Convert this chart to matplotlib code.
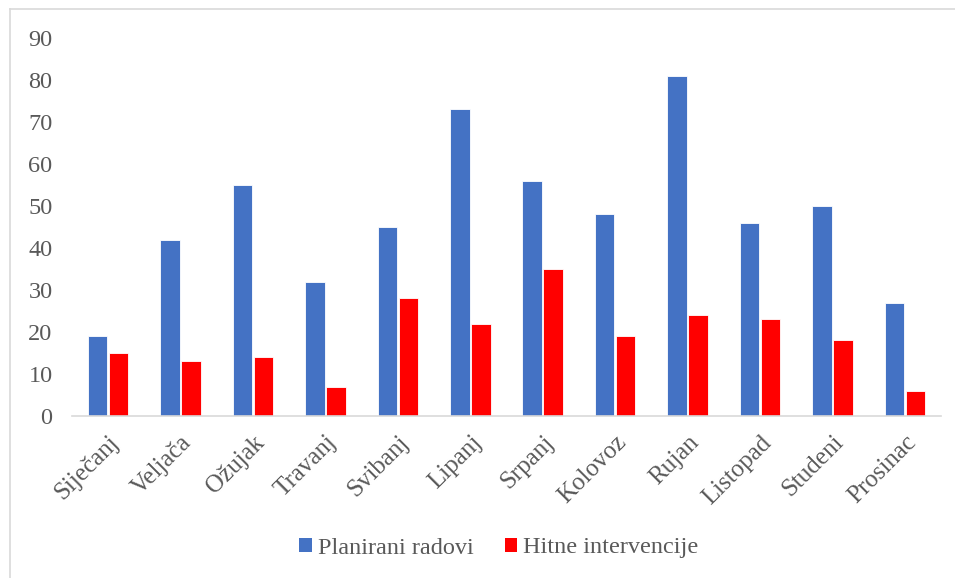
import numpy as np
import matplotlib
matplotlib.use("Agg")
import matplotlib.pyplot as plt
from matplotlib.lines import Line2D
from matplotlib.patches import Patch

# Mjesečni podaci
mjeseci = ["Siječanj", "Veljača", "Ožujak", "Travanj", "Svibanj", "Lipanj",
           "Srpanj", "Kolovoz", "Rujan", "Listopad", "Studeni", "Prosinac"]
planirani = [19, 42, 55, 32, 45, 73, 56, 48, 81, 46, 50, 27]
hitne = [15, 13, 14, 7, 28, 22, 35, 19, 24, 23, 18, 6]

plt.rcParams['font.family'] = ['Liberation Serif', 'DejaVu Serif']
tekst_boja = "#595959"
plava = "#4472C4"
crvena = "#FF0000"

fig = plt.figure(figsize=(9.55, 5.78), dpi=100)
ax = fig.add_axes([72/955, 1-416/578, (941-72)/955, (416-38)/578])

x = np.arange(len(mjeseci))
sirina = 0.27
ax.bar(x - 0.145, planirani, sirina, color=plava, edgecolor="white", linewidth=0.6,
       label="Planirani radovi")
ax.bar(x + 0.145, hitne, sirina, color=crvena, edgecolor="white", linewidth=0.6,
       label="Hitne intervencije")

ax.set_xlim(-0.5, len(mjeseci) - 0.5)
ax.set_ylim(0, 90)
ax.set_yticks(range(0, 91, 10))
ax.set_xticks(x)
ax.set_xticklabels(mjeseci, rotation=45, ha="right", rotation_mode="anchor")

for s in ["top", "right", "left"]:
    ax.spines[s].set_visible(False)
ax.spines["bottom"].set_color("#d9d9d9")
ax.spines["bottom"].set_linewidth(1.2)

ax.tick_params(axis="y", length=0, pad=14, labelsize=17.5, labelcolor=tekst_boja)
ax.tick_params(axis="x", length=0, pad=11, labelsize=18, labelcolor=tekst_boja)

# legenda ispod grafikona
ruke = [Patch(facecolor=plava, edgecolor="none"), Patch(facecolor=crvena, edgecolor="none")]
leg = fig.legend(ruke, ["Planirani radovi", "Hitne intervencije"], loc="center",
                 bbox_to_anchor=(499/955, 1-548/578), ncol=2, frameon=False,
                 fontsize=17.5, handlelength=0.5, handleheight=0.5,
                 handletextpad=0.25, columnspacing=1.3, labelcolor=tekst_boja)

# okvir grafikona
fig.add_artist(Line2D([10/955, 1], [1-8.5/578, 1-8.5/578], color="#d9d9d9", lw=1.2))
fig.add_artist(Line2D([10/955, 10/955], [0, 1-8.5/578], color="#d9d9d9", lw=1.2))

fig.savefig("out.png", dpi=100)
